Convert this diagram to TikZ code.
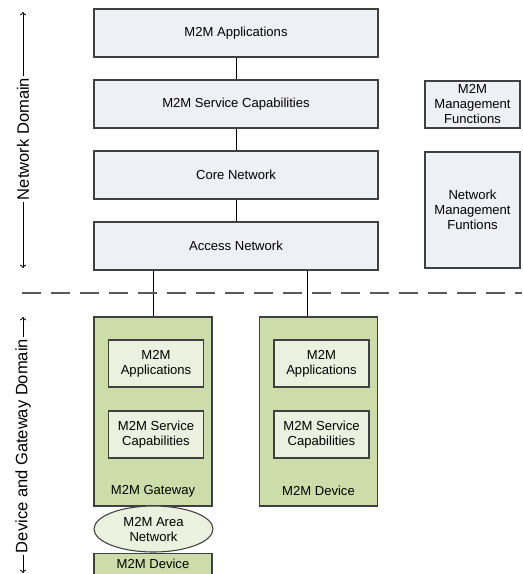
\documentclass[tikz,border=0pt]{standalone}
\usepackage{fontspec}
\setmainfont{Liberation Sans}
\usetikzlibrary{arrows, shapes.geometric, positioning}

\definecolor{netfill}{HTML}{EDF0F5}
\definecolor{boxline}{HTML}{404040}
\definecolor{gwfill}{HTML}{CCDDAA}
\definecolor{subfill}{HTML}{EBF1DE}
\definecolor{dashgray}{HTML}{595959}

\begin{document}
\begin{tikzpicture}[x=0.75pt, y=-0.75pt]
			\tikzset {every node/.style={font=\fontsize{9.8}{11.25}\selectfont, align=center},
				netbox/.style={draw=boxline, line width=0.8pt, fill=netfill, minimum width=213pt, minimum height=36pt},
				mgmtbox/.style={draw=boxline, line width=0.8pt, fill=netfill, minimum width=71.25pt, inner sep=0pt},
				gwbox/.style={draw=boxline, line width=0.8pt, fill=gwfill, minimum width=88.5pt, minimum height=141.75pt},
				subbox/.style={draw=boxline, line width=0.8pt, fill=subfill, minimum width=71.25pt, minimum height=35.25pt, inner sep=0pt},
				domainlabel/.style={rotate=90, font=\fontsize{12.4}{14}\selectfont, inner sep=1pt},
				link/.style={line width=0.75pt, black} }

			\useasboundingbox (0,0) rectangle (522,574);
			\clip (0,0) rectangle (522,574);

			\node[netbox] (app) at (236,33) {M2M Applications};
			\node[netbox] (sc) at (236,104) {M2M Service Capabilities};
			\node[netbox] (core) at (236,175) {Core Network};
			\node[netbox] (access) at (236,246) {Access Network};

			\node[mgmtbox, minimum height=35.25pt] (m2mmgmt) at (472.5,104.5) {M2M\\Management\\Functions};
			\node[mgmtbox, minimum height=87pt] (netmgmt) at (472.5,210) {Network\\Management\\Funtions};

			\node[gwbox] (gw) at (153,411.5) {};
			\node[gwbox] (dev) at (318.5,411.5) {};
			\node[subbox] (gwapp) at (156,363.5) {M2M\\Applications};
			\node[subbox] (gwsc) at (156,434.5) {M2M Service\\Capabilities};
			\node[subbox] (devapp) at (321.5,363.5) {M2M\\Applications};
			\node[subbox] (devsc) at (321.5,434.5) {M2M Service\\Capabilities};
			\node (gwlabel) at (153,491) {M2M Gateway};
			\node (devlabel) at (318.5,491) {M2M Device};

			\node[ellipse, draw=boxline, line width=0.8pt, fill=subfill, minimum width=89.25pt, minimum height=34.5pt, inner sep=0pt] (area) at (153.5,529) {M2M Area\\Network};
			\node[draw=boxline, line width=0.8pt, fill=gwfill, minimum width=88.5pt, anchor=north, inner ysep=4pt, text depth=10pt] (areadev) at (153,553) {M2M Device};

			\draw[link] (app) -- (sc) -- (core) -- (access);
			\draw[link] (gw.north) -- (gw.north |- access.south);
			\draw[link] ([xshift=-8.6pt]dev.north) -- ([xshift=-8.6pt]dev.north |- access.south);

			\coordinate (dl) at (22,293);
			\coordinate (dr) at (522,293);
			\draw[dashgray, line width=1pt, dash pattern=on 14.25pt off 7.5pt] (dl) -- (dr);

			\node[domainlabel] (nd) at (23,139) {Network Domain};
			\coordinate (ndtop) at (23,12);
			\coordinate (ndbot) at (23,268);
			\draw[link, ->] (nd.east) -- (ndtop);
			\draw[link, ->] (nd.west) -- (ndbot);

			\node[domainlabel] (gd) at (23,446) {Device and Gateway Domain};
			\coordinate (gdtop) at (23,317);
			\coordinate (gdbot) at (23,573);
			\draw[link, ->] (gd.east) -- (gdtop);
			\draw[link, ->] (gd.west) -- (gdbot);
		\end{tikzpicture}
\end{document}
